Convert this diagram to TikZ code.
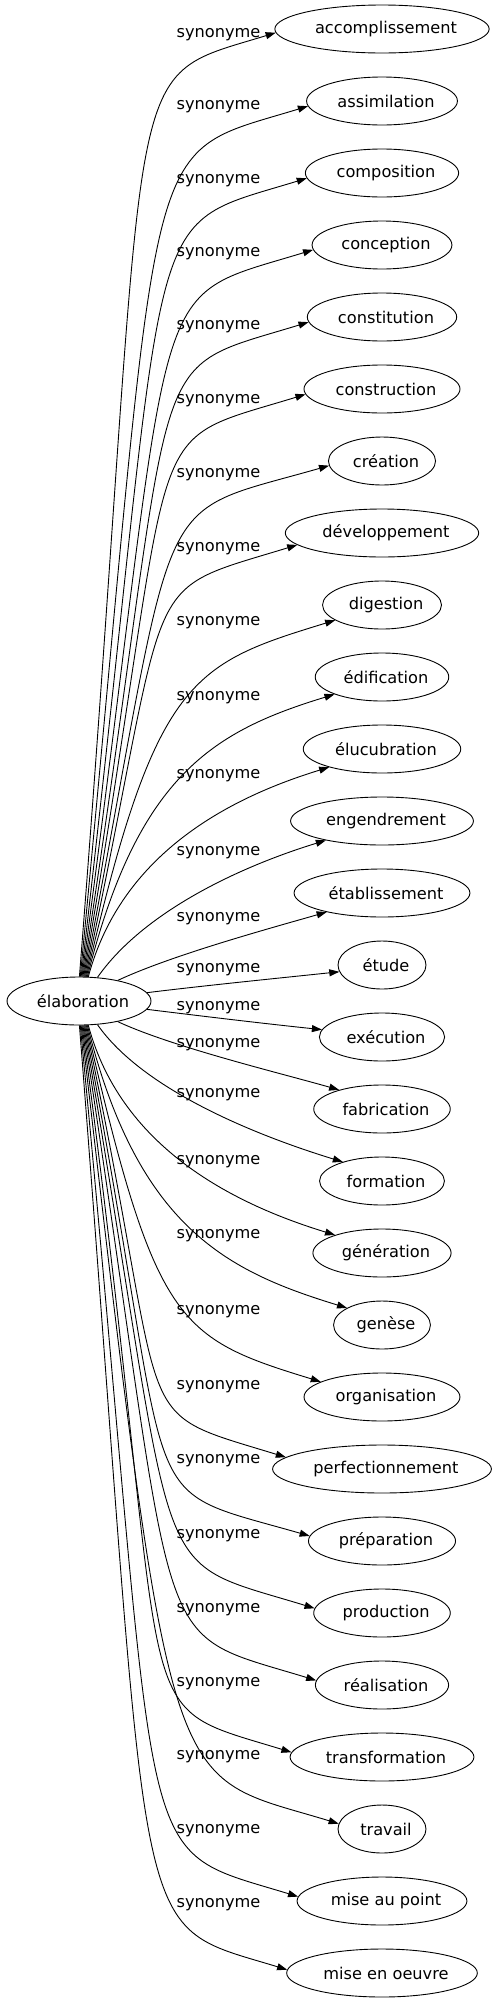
\documentclass[tikz,border=0pt]{standalone}
\usepackage{fontspec}
\setmainfont{DejaVu Sans}
\usepackage{tikz}
\usetikzlibrary{shapes.geometric}
\usetikzlibrary{arrows.meta}
\newcommand{\wordfont}{\fontsize{16.2pt}{19pt}\selectfont}
\newcommand{\shifted}[1]{\hspace*{4pt}#1\hspace*{-4pt}}
\newdimen\wordeast
% edge shapes, from the middle outwards
\newcommand{\startangles}{{7,28,52,69,71,73,75,77,79,81,83,85,87,89}}
\newcommand{\outangles}{{7,25,55,75,76,77,78,79.2,80.3,81.3,82.4,83.4,84.5,85.5}}
\newcommand{\outlengths}{{60,60,80,130,209,307,423,511,583,655,727,799,871,945}}
\newcommand{\tipdrops}{{7,19,19,18,17,15,12,5,5,5,5,5,5,4}}
\newcommand{\inangles}{{6,16,17,17,17,17,17,16,17,17,17,17,17,17}}
\newcommand{\inlengths}{{60,60,90,100,125,150,170,190,180,180,180,180,180,170}}
\tikzset{
  x=1pt, y=1pt,
  >={Triangle[length=10pt,width=7pt]},
  % node options
  word/.style={ellipse,draw,line width=0.9pt,inner xsep=4.8pt,inner ysep=0pt,
    minimum width=88pt,minimum height=48pt,font=\wordfont},
  relation/.style={inner sep=0pt,font=\wordfont},
  % path options
  synonym/.style={->,line width=0.9pt},
}

\begin{document}
\begin{tikzpicture}
  \useasboundingbox (0,0) rectangle (492,-2003);
  \node[word] (elaboration) at (79,-1001) {\shifted{élaboration}};
  \foreach \word/\ty [count=\i] in {accomplissement/35, assimilation/107,
      composition/181, conception/254, constitution/327, construction/401,
      création/475, développement/549, digestion/623, édification/698,
      élucubration/776, engendrement/853, établissement/919, étude/970,
      exécution/1008, fabrication/1045, formation/1095, génération/1162,
      genèse/1236, organisation/1312, perfectionnement/1387, préparation/1461,
      production/1536, réalisation/1610, transformation/1684, travail/1757,
      mise au point/1831, mise en oeuvre/1905} {
    \node[word] (w\i) at (382,{-29-72*(\i-1)}) {\shifted{\word}};
    \node[relation] (l\i) at (218.5,-\ty) {synonyme};
    \pgfextractx{\wordeast}{\pgfpointanchor{w\i}{east}}
    \pgfmathsetmacro\rx{\the\wordeast-382}
    \pgfmathtruncatemacro\k{\i<15 ? 14-\i : \i-15}
    \pgfmathsetmacro\s{\i<15 ? 1 : -1}
    \pgfmathsetmacro\sa{\startangles[\k]}
    \pgfmathtruncatemacro\sa{\s>0 ? \sa : 360-\sa}
    \pgfmathsetmacro\al{\outangles[\k]}
    \pgfmathsetmacro\al{\s*\al}
    \pgfmathsetmacro\lone{\outlengths[\k]}
    \pgfmathsetmacro\dy{\tipdrops[\k]}
    \pgfmathtruncatemacro\ea{round(180+\s*atan(\dy/(\rx*sqrt(1-(\dy/24)^2))))}
    \pgfmathsetmacro\ga{\inangles[\k]}
    \pgfmathsetmacro\ga{180+\s*\ga}
    \pgfmathsetmacro\ltwo{\inlengths[\k]}
    \draw[synonym] (elaboration.\sa) .. controls +(\al:\lone) and +(\ga:\ltwo) .. (w\i.\ea);
  }
\end{tikzpicture}
\end{document}
